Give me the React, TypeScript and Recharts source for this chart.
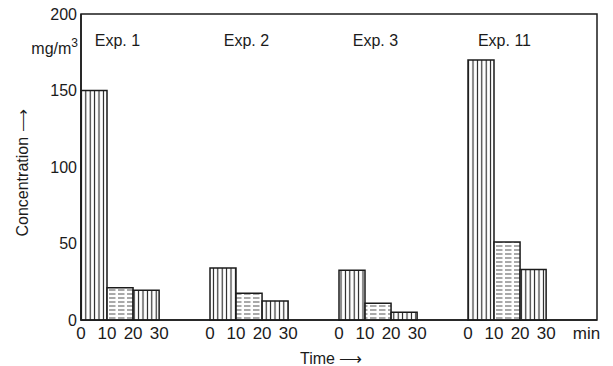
import { BarChart, Bar, XAxis, YAxis, Cell, ReferenceArea, ReferenceDot } from 'recharts';

const experiments = ['Exp. 1', 'Exp. 2', 'Exp. 3', 'Exp. 11'];
const startMinutes = [0, 10, 20];
const edgeLabels = ['0', '10', '20', '30'];
const exp1 = [150, 21, 19.5];
const exp2 = [34, 17.5, 12.5];
const exp3 = [32.5, 11, 5];
const exp11 = [170, 51, 33];
const yTicks = [0, 50, 100, 150, 200];
const unitTick = 'min';

const series = [exp1, exp2, exp3, exp11];

// layout of the time axis (minutes)
const GROUP_SPAN = 49.5;
const STEP = 10;
const X_MAX = 198;
const UNIT_AT = 194;
const LABEL_Y = 183;
const UNIT_Y = 178;

const W = 613;
const H = 366;
const M = { top: 14, right: 16, left: 0, bottom: 0 };
const Y_W = 81;
const X_H = 46;
const PLOT_W = W - M.right - Y_W;

const FONT = '"Liberation Sans", Arial, Helvetica, sans-serif';
const INK = '#1b1b1b';

const data = experiments.flatMap((name, g) =>
  series[g].map((v, i) => ({ t: g * GROUP_SPAN + startMinutes[i] + STEP / 2, v, slot: i, name })),
);

const tickMap = new Map<number, string>();
experiments.forEach((_, g) => edgeLabels.forEach((lab, k) => tickMap.set(g * GROUP_SPAN + k * STEP, lab)));
tickMap.set(UNIT_AT, unitTick);
const xTicks = Array.from(tickMap.keys());

const fills = ['url(#vhatch)', 'url(#hhatch)', 'url(#vhatch)'];

function YTitle({ viewBox }: any) {
  const cx = 22;
  const cy = viewBox.y + viewBox.height / 2 + 6;
  return (
    <text
      x={cx}
      y={cy}
      transform={`rotate(-90 ${cx} ${cy})`}
      textAnchor="middle"
      dominantBaseline="central"
      fontSize={16}
      fontFamily={FONT}
      fill={INK}
    >
      Concentration ⟶
    </text>
  );
}

function XTitle({ viewBox }: any) {
  return (
    <text x={viewBox.x + 219} y={viewBox.y + 44} fontSize={16} fontFamily={FONT} fill={INK}>
      Time ⟶
    </text>
  );
}

function UnitLabel({ viewBox }: any) {
  return (
    <text x={viewBox.x - 3} y={viewBox.y + 6} textAnchor="end" fontSize={16} fontFamily={FONT} fill={INK}>
      mg/m
      <tspan dy={-7} fontSize={12}>
        3
      </tspan>
    </text>
  );
}

export default function App() {
  return (
    <div style={{ position: 'absolute', left: 0, top: 0, width: W, height: H, background: '#fff' }}>
      <BarChart width={W} height={H} data={data} margin={M} barCategoryGap={0} barGap={0}>
        <defs>
          <pattern id="vhatch" patternUnits="userSpaceOnUse" width={4.4} height={6}>
            <rect width={4.4} height={6} fill="#fff" />
            <line x1={2.2} y1={0} x2={2.2} y2={6} stroke={INK} strokeWidth={1.1} />
          </pattern>
          <pattern id="hhatch" patternUnits="userSpaceOnUse" width={9} height={4}>
            <rect width={9} height={4} fill="#fff" />
            <line x1={1} y1={2} x2={7.5} y2={2} stroke="#555" strokeWidth={1} />
          </pattern>
        </defs>
        <XAxis
          type="number"
          dataKey="t"
          domain={[0, X_MAX]}
          ticks={xTicks}
          interval={0}
          tickFormatter={(v: number) => tickMap.get(v) ?? ''}
          tickLine={false}
          tickSize={0}
          tickMargin={7}
          height={X_H}
          axisLine={{ stroke: INK, strokeWidth: 1.5 }}
          tick={{ fontSize: 17, fill: INK, fontFamily: FONT }}
          label={<XTitle />}
        />
        <YAxis
          type="number"
          domain={[0, 200]}
          ticks={yTicks}
          interval={0}
          width={Y_W}
          tickLine={false}
          tickSize={0}
          tickMargin={4}
          axisLine={{ stroke: INK, strokeWidth: 1.5 }}
          tick={{ fontSize: 16, fill: INK, fontFamily: FONT }}
          label={<YTitle />}
        />
        <ReferenceArea x1={0} x2={X_MAX} y1={0} y2={200} fill="none" stroke={INK} strokeWidth={1.5} ifOverflow="visible" />
        <Bar dataKey="v" barSize={Math.round((PLOT_W / X_MAX) * STEP)} stroke={INK} strokeWidth={1.5} isAnimationActive={false}>
          {data.map((d, i) => (
            <Cell key={i} fill={fills[d.slot]} />
          ))}
        </Bar>
        {experiments.map((name, g) => (
          <ReferenceDot
            key={name}
            x={g * GROUP_SPAN + 14}
            y={LABEL_Y}
            r={0}
            fill="none"
            stroke="none"
            ifOverflow="visible"
            label={{ value: name, position: 'center', fontSize: 16, fill: INK, fontFamily: FONT }}
          />
        ))}
        <ReferenceDot x={0} y={UNIT_Y} r={0} fill="none" stroke="none" ifOverflow="visible" label={<UnitLabel />} />
      </BarChart>
    </div>
  );
}
